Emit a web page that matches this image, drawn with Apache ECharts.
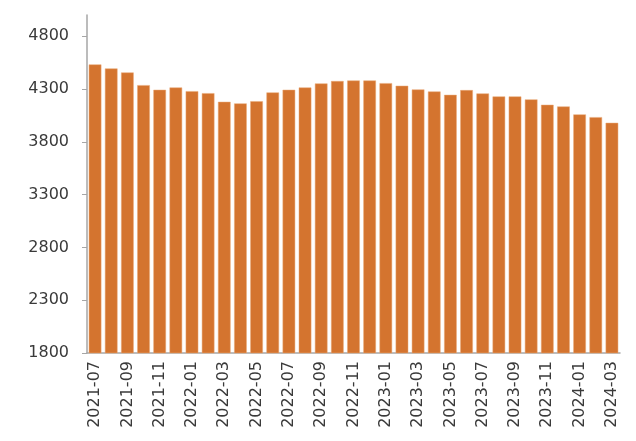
<!DOCTYPE html>
<html>
<head>
<meta charset="utf-8">
<script src="https://cdn.jsdelivr.net/npm/echarts@6/dist/echarts.min.js"></script>
<style>html,body{margin:0;padding:0;background:#fff;}#c{width:636px;height:441px;}</style>
</head>
<body>
<div id="c"></div>
<script>
const categories = ["2021-07","2021-08","2021-09","2021-10","2021-11","2021-12","2022-01","2022-02","2022-03","2022-04","2022-05","2022-06","2022-07","2022-08","2022-09","2022-10","2022-11","2022-12","2023-01","2023-02","2023-03","2023-04","2023-05","2023-06","2023-07","2023-08","2023-09","2023-10","2023-11","2023-12","2024-01","2024-02","2024-03"];
const values = [4532,4494,4456,4336,4292,4314,4279,4260,4178,4163,4184,4267,4292,4314,4352,4375,4380,4380,4355,4330,4295,4276,4244,4289,4257,4229,4229,4201,4150,4134,4059,4033,3979];
const yTicks = [1800,2300,2800,3300,3800,4300,4800];

const chart = echarts.init(document.getElementById('c'), null, {renderer:'canvas'});
chart.setOption({
  animation:false,
  grid:{left:87,right:16,top:15,bottom:88,containLabel:false},
  xAxis:{
    type:'category',
    data:categories,
    axisLine:{lineStyle:{color:'#a6a6a6',width:1.5}},
    axisTick:{interval:1,length:4,lineStyle:{color:'#a6a6a6'}},
    axisLabel:{interval:1,rotate:90,margin:8,color:'#3a3a3a',fontFamily:'DejaVu Sans',fontSize:16}
  },
  yAxis:{
    type:'value',
    min:1800,max:5000,
    axisLine:{show:true,lineStyle:{color:'#a6a6a6',width:1.5}},
    axisTick:{show:true,length:5,customValues:yTicks,lineStyle:{color:'#a6a6a6'}},
    splitLine:{show:false},
    axisLabel:{customValues:yTicks,margin:18,color:'#3a3a3a',fontFamily:'DejaVu Sans',fontSize:16,formatter:function(v){return String(v);}}
  },
  series:[{
    type:'bar',
    data:values,
    barCategoryGap:'22%',
    itemStyle:{color:'#D4742F',borderColor:'#e8a877',borderWidth:0.5}
  }]
});
</script>
</body>
</html>
